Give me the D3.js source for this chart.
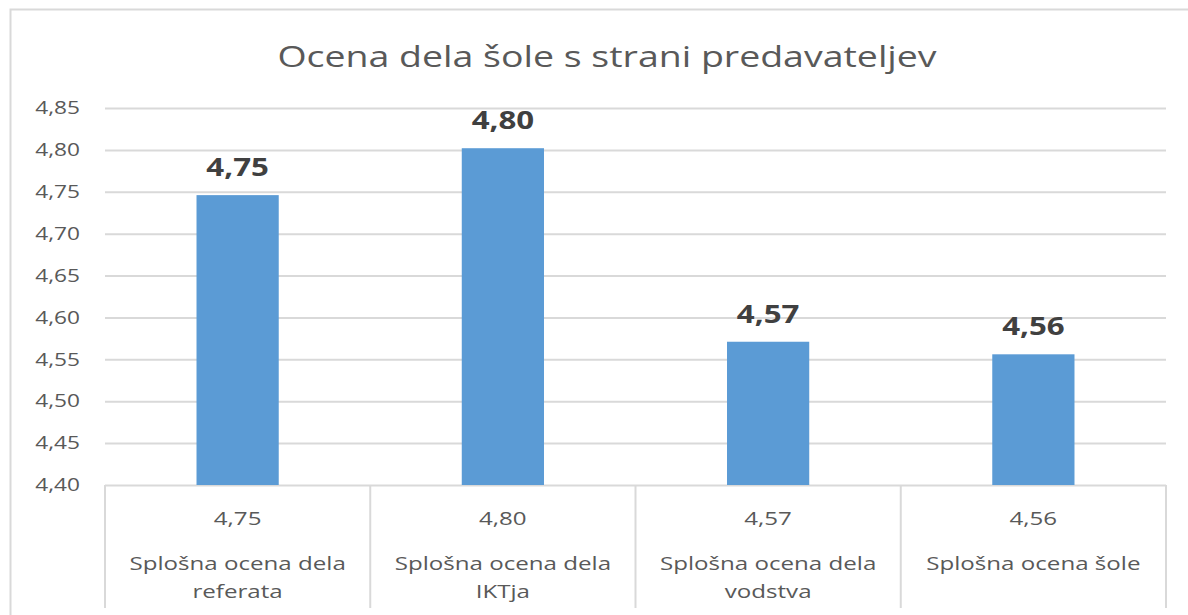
<!DOCTYPE html>
<html>
<head>
<meta charset="utf-8">
<script src="https://cdn.jsdelivr.net/npm/d3@7"></script>
<style>
  body { margin: 0; background: #fff; }
  svg { display: block; font-family: "Open Sans", "Noto Sans", sans-serif; }
</style>
</head>
<body>
<svg id="chart" width="1188" height="615"></svg>
<script>
const title = 'Ocena dela šole s strani predavateljev'
const categories = [
    ['Splošna ocena dela', 'referata'],
    ['Splošna ocena dela', 'IKTja'],
    ['Splošna ocena dela', 'vodstva'],
    ['Splošna ocena šole']
]
const values = [4.746, 4.802, 4.571, 4.556]
const yTicks = [4.40, 4.45, 4.50, 4.55, 4.60, 4.65, 4.70, 4.75, 4.80, 4.85]

const margin = { left: 105, right: 22, top: 108, bottom: 130 }
const size = { width: 1188, height: 615 }
const gray = '#595959'
const gridColor = '#d9d9d9'
const fmt = d => d3.format('.2f')(d).replace('.', ',')

// the original picture is a bit wider than tall, so text is stretched sideways
const stretch = (sel, k) => sel.attr('transform', function () {
    const tx = +d3.select(this).attr('x') || 0
    return `translate(${tx},0) scale(${k},1) translate(${-tx},0)`
})

const svg = d3.select('#chart')

// outer chart border
svg.append('rect')
    .attr('x', 10.5).attr('y', 9.5)
    .attr('width', 1190).attr('height', 620)
    .attr('fill', 'none')
    .attr('stroke', gridColor)
    .attr('stroke-width', 2)

svg.append('text')
    .attr('x', 607)
    .attr('y', 67)
    .attr('text-anchor', 'middle')
    .attr('fill', gray)
    .style('font-size', '30px')
    .text(title)
    .call(stretch, 1.25)

const plotBottom = size.height - margin.bottom

const x = d3.scaleBand()
    .domain(d3.range(categories.length))
    .range([margin.left, size.width - margin.right])
    .paddingInner(0.69)
    .paddingOuter(0.345)

const xCell = d3.scaleBand()
    .domain(d3.range(categories.length))
    .range([margin.left, size.width - margin.right])

const y = d3.scaleLinear()
    .domain([4.40, 4.85])
    .range([plotBottom, margin.top])

// gridlines + y labels
const yAxis = d3.axisLeft(y)
    .tickValues(yTicks)
    .tickFormat(fmt)
    .tickSize(-(size.width - margin.right - margin.left))
    .tickPadding(25)

const gy = svg.append('g')
    .attr('transform', `translate(${margin.left}, 0)`)
    .call(yAxis)
gy.select('.domain').remove()
gy.selectAll('line').attr('stroke', gridColor).attr('stroke-width', 2)
gy.selectAll('text')
    .attr('fill', gray)
    .style('font-size', '18px')
    .call(stretch, 1.26)
gy.attr('font-family', null)

// bars
svg.append('g').selectAll('rect')
    .data(values)
    .join('rect')
    .attr('x', (d, i) => x(i))
    .attr('width', x.bandwidth())
    .attr('y', d => y(d))
    .attr('height', d => plotBottom - y(d))
    .attr('fill', '#5b9bd5')

// data labels
svg.append('g').selectAll('text')
    .data(values)
    .join('text')
    .attr('x', (d, i) => x(i) + x.bandwidth() / 2)
    .attr('y', d => y(d) - 19)
    .attr('text-anchor', 'middle')
    .attr('fill', '#404040')
    .style('font-size', '25px')
    .style('font-weight', 'bold')
    .text(d => fmt(d))
    .call(stretch, 1.25)

// data table under the plot
const table = svg.append('g')
table.selectAll('line.cell')
    .data(d3.range(categories.length + 1))
    .join('line')
    .attr('class', 'cell')
    .attr('x1', i => i < categories.length ? xCell(i) : xCell.range()[1])
    .attr('x2', i => i < categories.length ? xCell(i) : xCell.range()[1])
    .attr('y1', plotBottom)
    .attr('y2', 608)
    .attr('stroke', gridColor)
    .attr('stroke-width', 2)

table.selectAll('text.val')
    .data(values)
    .join('text')
    .attr('class', 'val')
    .attr('x', (d, i) => xCell(i) + xCell.bandwidth() / 2)
    .attr('y', 525)
    .attr('text-anchor', 'middle')
    .attr('fill', gray)
    .style('font-size', '19px')
    .text(d => fmt(d))
    .call(stretch, 1.27)

const catText = table.selectAll('text.cat')
    .data(categories)
    .join('text')
    .attr('class', 'cat')
    .attr('x', (d, i) => xCell(i) + xCell.bandwidth() / 2)
    .attr('y', 570)
    .attr('text-anchor', 'middle')
    .attr('fill', gray)
    .style('font-size', '19px')
    .call(stretch, 1.27)

catText.selectAll('tspan')
    .data(d => d)
    .join('tspan')
    .attr('x', function () { return d3.select(this.parentNode).attr('x') })
    .attr('dy', (d, i) => i === 0 ? 0 : 28)
    .text(d => d)
</script>
</body>
</html>
